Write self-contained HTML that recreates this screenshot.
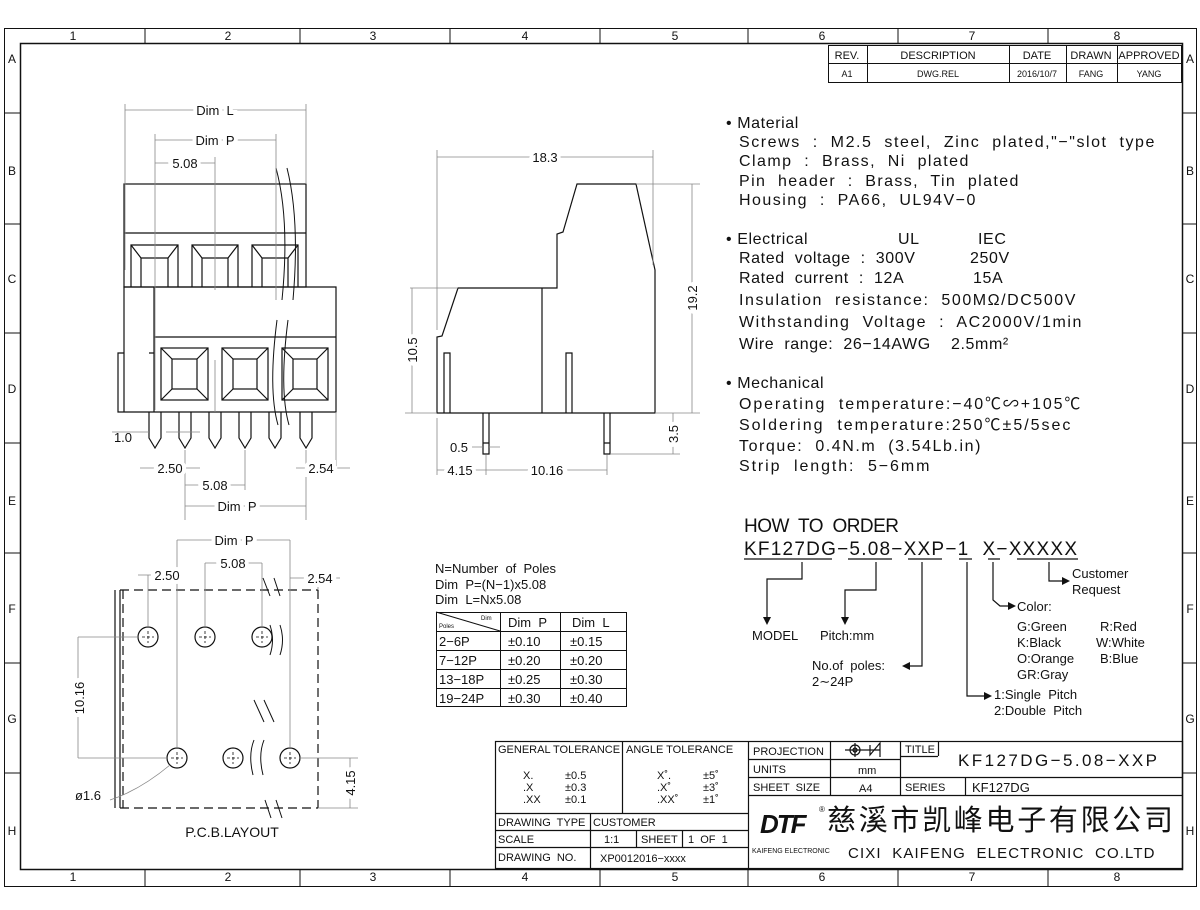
<!DOCTYPE html>
<html><head><meta charset="utf-8"><style>
html,body{margin:0;padding:0;background:#fff}
svg{display:block}
text{font-family:"Liberation Sans","Noto Sans CJK SC",sans-serif;fill:#111;white-space:pre}
.t{font-size:16px;letter-spacing:0.6px}
.s{font-size:12px}
.xs{font-size:10px}
.d{font-size:13px}
</style></head><body>
<svg width="1200" height="910" viewBox="0 0 1200 910" xmlns="http://www.w3.org/2000/svg" xml:space="preserve">
<g fill="none" stroke="#111" stroke-width="1">
<rect x="4.5" y="28.5" width="1192" height="858"/>
<rect x="20.5" y="43.5" width="1162" height="826" stroke-width="1.5"/>
<path d="M145 28V43M300 28V43M450 28V43M600 28V43M748 28V43M898 28V43M1048 28V43M145 870V886M300 870V886M450 870V886M600 870V886M748 870V886M898 870V886M1048 870V886"/>
<path d="M4 113H20M4 224H20M4 333H20M4 443H20M4 553H20M4 663H20M4 773H20M1182 113H1196M1182 224H1196M1182 333H1196M1182 443H1196M1182 553H1196M1182 663H1196M1182 773H1196"/>
<rect x="828.5" y="45.5" width="353" height="37"/>
<path d="M828 63.5H1182M867.5 45V82M1009.5 45V82M1066.5 45V82M1117.5 45V82"/>
</g>
<g class="s" text-anchor="middle">
<text x="73" y="40">1</text><text x="228" y="40">2</text><text x="373" y="40">3</text><text x="525" y="40">4</text><text x="675" y="40">5</text><text x="822" y="40">6</text><text x="972" y="40">7</text><text x="1117" y="40">8</text>
<text x="73" y="881">1</text><text x="228" y="881">2</text><text x="373" y="881">3</text><text x="525" y="881">4</text><text x="675" y="881">5</text><text x="822" y="881">6</text><text x="972" y="881">7</text><text x="1117" y="881">8</text>
<text x="12" y="63">A</text><text x="12" y="175">B</text><text x="12" y="283">C</text><text x="12" y="393">D</text><text x="12" y="505">E</text><text x="12" y="613">F</text><text x="12" y="723">G</text><text x="12" y="835">H</text>
<text x="1190" y="63">A</text><text x="1190" y="175">B</text><text x="1190" y="283">C</text><text x="1190" y="393">D</text><text x="1190" y="505">E</text><text x="1190" y="613">F</text><text x="1190" y="723">G</text><text x="1190" y="835">H</text>
<text x="847" y="59" font-size="11">REV.</text><text x="938" y="59" font-size="11">DESCRIPTION</text><text x="1037" y="59" font-size="11">DATE</text><text x="1091" y="59" font-size="11">DRAWN</text><text x="1149" y="59" font-size="11">APPROVED</text>
<text x="847" y="77" font-size="9">A1</text><text x="938" y="77" font-size="9">DWG.REL</text><text x="1037" y="77" font-size="9">2016/10/7</text><text x="1091" y="77" font-size="9">FANG</text><text x="1149" y="77" font-size="9">YANG</text>
</g>

<!-- FRONT VIEW -->
<g fill="none" stroke="#111" stroke-width="1.2">
<rect x="124" y="184" width="182" height="103"/>
<path d="M124 233H306"/>
<path d="M131 287V245H178V287M192 287V245H238V287M252 287V245H298V287"/>
<path d="M131 245L141 258H168L178 245M141 258V287M168 258V287M192 245L202 258H228L238 245M202 258V287M228 258V287M252 245L262 258H288L298 245M262 258V287M288 258V287"/>
<path d="M124 287H336V412H124ZM154 287V412M154 337H336M118 353H124V412H118ZM149 353H154"/>
<rect x="161" y="348" width="47" height="52"/><rect x="172" y="359" width="25" height="30"/>
<path d="M161 348L172 359M208 348L197 359M161 400L172 389M208 400L197 389"/>
<rect x="222" y="348" width="46" height="52"/><rect x="233" y="359" width="24" height="30"/>
<path d="M222 348L233 359M268 348L257 359M222 400L233 389M268 400L257 389"/>
<rect x="282" y="348" width="46" height="52"/><rect x="293" y="359" width="24" height="30"/>
<path d="M282 348L293 359M328 348L317 359M282 400L293 389M328 400L317 389"/>
<path d="M149 412V438L155 448L161 438V412M179 412V438L185 448L191 438V412M209 412V438L215 448L221 438V412M239 412V438L245 448L251 438V412M269 412V438L275 448L281 438V412M300 412V438L306 448L312 438V412"/>
<path d="M276 168Q290 220 282 300M287 168Q300 220 293 300M277 320Q268 390 278 425M288 320Q279 390 289 425" stroke-width="1"/>
</g>
<g fill="none" stroke="#888" stroke-width="0.8">
<path d="M125 104V270M306 104V184M155 134V410M276 134V300M215 157V290M215 360V412M336 412V475M185 450V520M245 450V490M306 450V520"/>
<path d="M125 110H306M155 140H276M155 163H215M112 432H149M166 432H200M140 468H155M185 468H200M296 468H306M336 468H350M185 485H245M185 506H306"/>
</g>
<g class="d" text-anchor="middle">
<text x="215" y="115" stroke="#fff" stroke-width="8">Dim  L</text><text x="215" y="115">Dim  L</text>
<text x="215" y="145" stroke="#fff" stroke-width="8">Dim  P</text><text x="215" y="145">Dim  P</text>
<text x="185" y="168" stroke="#fff" stroke-width="8">5.08</text><text x="185" y="168">5.08</text>
<text x="123" y="442">1.0</text>
<text x="170" y="473" stroke="#fff" stroke-width="8">2.50</text><text x="170" y="473">2.50</text>
<text x="321" y="473" stroke="#fff" stroke-width="8">2.54</text><text x="321" y="473">2.54</text>
<text x="215" y="490" stroke="#fff" stroke-width="8">5.08</text><text x="215" y="490">5.08</text>
<text x="237" y="511" stroke="#fff" stroke-width="8">Dim  P</text><text x="237" y="511">Dim  P</text>
</g>

<!-- SIDE VIEW -->
<g fill="none" stroke="#111" stroke-width="1.2">
<path d="M437 413V337L442 336L458 288H557V234L563 232L577 184H636L655 270V413Z"/>
<path d="M542 288V413M444 413V353H450V413M566 413V353H572V413M483 413V454H489V413M604 413V454H610V413M483 443H489M604 443H610"/>
</g>
<g fill="none" stroke="#888" stroke-width="0.8">
<path d="M437 150V330M653 150V265M437 157H653M410 288H458M412 288V413M405 413H437M636 184H700M692 184V413M655 413H700M610 454H680M673 413V454M486 455V475M607 455V475M437 418V475M437 470H607M472 447H483M489 447H500"/>
</g>
<g class="d" text-anchor="middle">
<text x="545" y="162" stroke="#fff" stroke-width="8">18.3</text><text x="545" y="162">18.3</text>
<text x="459" y="452">0.5</text>
<text x="460" y="475" stroke="#fff" stroke-width="8">4.15</text><text x="460" y="475">4.15</text>
<text x="547" y="475" stroke="#fff" stroke-width="8">10.16</text><text x="547" y="475">10.16</text>
<text transform="translate(417 350) rotate(-90)" stroke="#fff" stroke-width="8">10.5</text><text transform="translate(417 350) rotate(-90)">10.5</text>
<text transform="translate(697 298) rotate(-90)" stroke="#fff" stroke-width="8">19.2</text><text transform="translate(697 298) rotate(-90)">19.2</text>
<text transform="translate(678 434) rotate(-90)" stroke="#fff" stroke-width="8">3.5</text><text transform="translate(678 434) rotate(-90)">3.5</text>
</g>

<!-- PCB LAYOUT -->
<g fill="none" stroke="#111" stroke-width="1.2">
<path d="M115 590V808M120 590V808"/>
<path d="M120 590H318M120 808H318M318 590V808M123 590V808" stroke-dasharray="9 5"/>
<circle cx="148" cy="637" r="10"/><circle cx="205" cy="637" r="10"/><circle cx="262" cy="637" r="10"/>
<circle cx="177" cy="758" r="10"/><circle cx="233" cy="758" r="10"/><circle cx="290" cy="758" r="10"/>
<path d="M142 637H154M148 631V643M199 637H211M205 631V643M256 637H268M262 631V643M171 758H183M177 752V764M227 758H239M233 752V764M284 758H296M290 752V764" stroke-dasharray="3 2" stroke-width="0.8"/>
<path d="M263 578L270 596M274 578L280 596M270 625Q275 640 270 655M280 625Q285 640 280 655M264 722L254 700M274 722L264 700M254 740Q248 755 253 775M264 740Q258 755 263 775M265 800L271 818M276 800L282 818" stroke-width="1"/>
</g>
<g fill="none" stroke="#888" stroke-width="0.8">
<path d="M177 540V748M290 540V748M177 540H290M205 563V627M205 563H262M262 563V627M148 575V627M138 575H160M290 578H340M318 578V590M78 637H138M78 637V758M78 758H167M300 758H358M318 808H358M350 758V808M110 800Q140 790 170 765"/>
</g>
<g class="d" text-anchor="middle">
<text x="234" y="545" stroke="#fff" stroke-width="8">Dim  P</text><text x="234" y="545">Dim  P</text>
<text x="233" y="568" stroke="#fff" stroke-width="8">5.08</text><text x="233" y="568">5.08</text>
<text x="167" y="580" stroke="#fff" stroke-width="8">2.50</text><text x="167" y="580">2.50</text>
<text x="320" y="583" stroke="#fff" stroke-width="8">2.54</text><text x="320" y="583">2.54</text>
<text transform="translate(84 698) rotate(-90)" stroke="#fff" stroke-width="8">10.16</text><text transform="translate(84 698) rotate(-90)">10.16</text>
<text transform="translate(355 783) rotate(-90)" stroke="#fff" stroke-width="8">4.15</text><text transform="translate(355 783) rotate(-90)">4.15</text>
<text x="88" y="800">ø1.6</text>
<text x="232" y="837" font-size="14">P.C.B.LAYOUT</text>
</g>

<g class="d">
<text x="435" y="573">N=Number  of  Poles</text>
<text x="435" y="589">Dim  P=(N−1)x5.08</text>
<text x="435" y="604">Dim  L=Nx5.08</text>
</g>
<g fill="none" stroke="#111" stroke-width="1">
<rect x="436.5" y="612.5" width="190" height="94"/>
<path d="M436 631.5H627M436 650.5H627M436 669.5H627M436 688.5H627M500.5 612V706M560.5 612V706M436 612L500 631"/>
</g>
<g class="d">
<text x="481" y="620" font-size="6">Dim</text><text x="439" y="628" font-size="6">Poles</text>
<text x="508" y="627">Dim  P</text><text x="572" y="627">Dim  L</text>
<text x="439" y="646">2−6P</text><text x="508" y="646">±0.10</text><text x="570" y="646">±0.15</text>
<text x="439" y="665">7−12P</text><text x="508" y="665">±0.20</text><text x="570" y="665">±0.20</text>
<text x="439" y="684">13−18P</text><text x="508" y="684">±0.25</text><text x="570" y="684">±0.30</text>
<text x="439" y="703">19−24P</text><text x="508" y="703">±0.30</text><text x="570" y="703">±0.40</text>
</g>

<!-- specs -->
<g class="t">
<text x="726" y="128">• Material</text>
<text x="739" y="147" textLength="416">Screws  :  M2.5  steel,  Zinc  plated,"−"slot  type</text>
<text x="739" y="166" textLength="230">Clamp  :  Brass,  Ni  plated</text>
<text x="739" y="186" textLength="280">Pin  header  :  Brass,  Tin  plated</text>
<text x="739" y="205" textLength="237">Housing  :  PA66,  UL94V−0</text>
<text x="726" y="244">• Electrical</text><text x="898" y="244">UL</text><text x="978" y="244">IEC</text>
<text x="739" y="263">Rated  voltage  :  300V</text><text x="970" y="263">250V</text>
<text x="739" y="283">Rated  current  :  12A</text><text x="973" y="283">15A</text>
<text x="739" y="305" textLength="337">Insulation  resistance:  500MΩ/DC500V</text>
<text x="739" y="327" textLength="343">Withstanding  Voltage  :  AC2000V/1min</text>
<text x="739" y="349">Wire  range:  26−14AWG    2.5mm²</text>
<text x="726" y="388">• Mechanical</text>
<text x="739" y="409" textLength="342">Operating  temperature:−40℃∽+105℃</text>
<text x="739" y="430" textLength="332">Soldering  temperature:250℃±5/5sec</text>
<text x="739" y="451" textLength="242">Torque:  0.4N.m  (3.54Lb.in)</text>
<text x="739" y="471" textLength="191">Strip  length:  5−6mm</text>
</g>

<!-- how to order -->
<g font-size="19" letter-spacing="1">
<text x="744" y="532" textLength="156">HOW  TO  ORDER</text>
<text x="744" y="555" textLength="334">KF127DG−5.08−XXP−1  X−XXXXX</text>
</g>
<g fill="none" stroke="#111" stroke-width="1.2">
<path d="M744 559H832M848 559H892M908 559H942M959 559H972M988 559H1000M1017 559H1078"/>
<path d="M802 562V579H767V617M876 562V590H845V617M922 562V666H910M967 562V696H984M993 562V600L1000 606H1008M1049 562V581H1062"/>
</g>
<g fill="#111">
<path d="M763 617L767 625L771 617ZM841 617L845 625L849 617ZM910 662L902 666L910 670ZM984 692L992 696L984 700ZM1008 602L1016 606L1008 610ZM1062 577L1070 581L1062 585Z"/>
</g>
<g font-size="13">
<text x="752" y="640">MODEL</text><text x="820" y="640">Pitch:mm</text>
<text x="812" y="670">No.of  poles:</text><text x="812" y="686">2∼24P</text>
<text x="1017" y="611">Color:</text>
<text x="1017" y="631">G:Green</text><text x="1100" y="631">R:Red</text>
<text x="1017" y="647">K:Black</text><text x="1096" y="647">W:White</text>
<text x="1017" y="663">O:Orange</text><text x="1100" y="663">B:Blue</text>
<text x="1017" y="679">GR:Gray</text>
<text x="994" y="699">1:Single  Pitch</text><text x="994" y="715">2:Double  Pitch</text>
<text x="1072" y="578">Customer</text><text x="1072" y="594">Request</text>
</g>

<!-- title block -->
<g fill="none" stroke="#111" stroke-width="1.2">
<rect x="495.5" y="741.5" width="687" height="127"/>
<path d="M748.5 741V868M495 813.5H748M495 830.5H748M495 847.5H748M622.5 741V813M590.5 813V868M636.5 830V847M682.5 830V847"/>
<path d="M748 759.5H900M748 777.5H1182M748 795.5H1182M830.5 741V795M900.5 741V795M965.5 777V795M900 756.5H938M938.5 741V756"/>
<circle cx="855" cy="750" r="5"/><circle cx="855" cy="750" r="2"/><path d="M845 750H880M855 743V757M870 745V755L880 743V757"/>
</g>
<g font-size="11">
<text x="498" y="753">GENERAL TOLERANCE</text><text x="626" y="753">ANGLE TOLERANCE</text>
<text x="523" y="779">X.</text><text x="565" y="779">±0.5</text>
<text x="523" y="791">.X</text><text x="565" y="791">±0.3</text>
<text x="523" y="803">.XX</text><text x="565" y="803">±0.1</text>
<text x="657" y="779">X˚.</text><text x="703" y="779">±5˚</text>
<text x="657" y="791">.X˚</text><text x="703" y="791">±3˚</text>
<text x="657" y="803">.XX˚</text><text x="703" y="803">±1˚</text>
<text x="498" y="826">DRAWING  TYPE</text><text x="593" y="826">CUSTOMER</text>
<text x="498" y="843">SCALE</text><text x="604" y="843">1:1</text><text x="641" y="843">SHEET</text><text x="688" y="843">1  OF  1</text>
<text x="498" y="861">DRAWING  NO.</text><text x="600" y="862">XP0012016−xxxx</text>
<text x="753" y="755">PROJECTION</text><text x="753" y="773">UNITS</text><text x="858" y="774">mm</text>
<text x="753" y="791">SHEET  SIZE</text><text x="859" y="792">A4</text>
<text x="905" y="753">TITLE</text><text x="905" y="791">SERIES</text>
<text x="972" y="792" font-size="13" fill="#444">KF127DG</text>
</g>
<text x="958" y="766" font-size="17" fill="#555" letter-spacing="1" textLength="200">KF127DG−5.08−XXP</text>
<text x="760" y="833" font-size="26" font-weight="bold" font-style="italic" letter-spacing="-2">DTF</text>
<text x="819" y="812" font-size="8">®</text>
<text x="827" y="830" font-size="29" font-family="'Noto Sans CJK SC',sans-serif" textLength="346">慈溪市凯峰电子有限公司</text>
<text x="752" y="853" font-size="7" font-family="'Liberation Serif',serif">KAIFENG ELECTRONIC</text>
<text x="848" y="858" font-size="15" letter-spacing="1.5" fill="#222" textLength="308">CIXI  KAIFENG  ELECTRONIC  CO.LTD</text>
</svg>
</body></html>
